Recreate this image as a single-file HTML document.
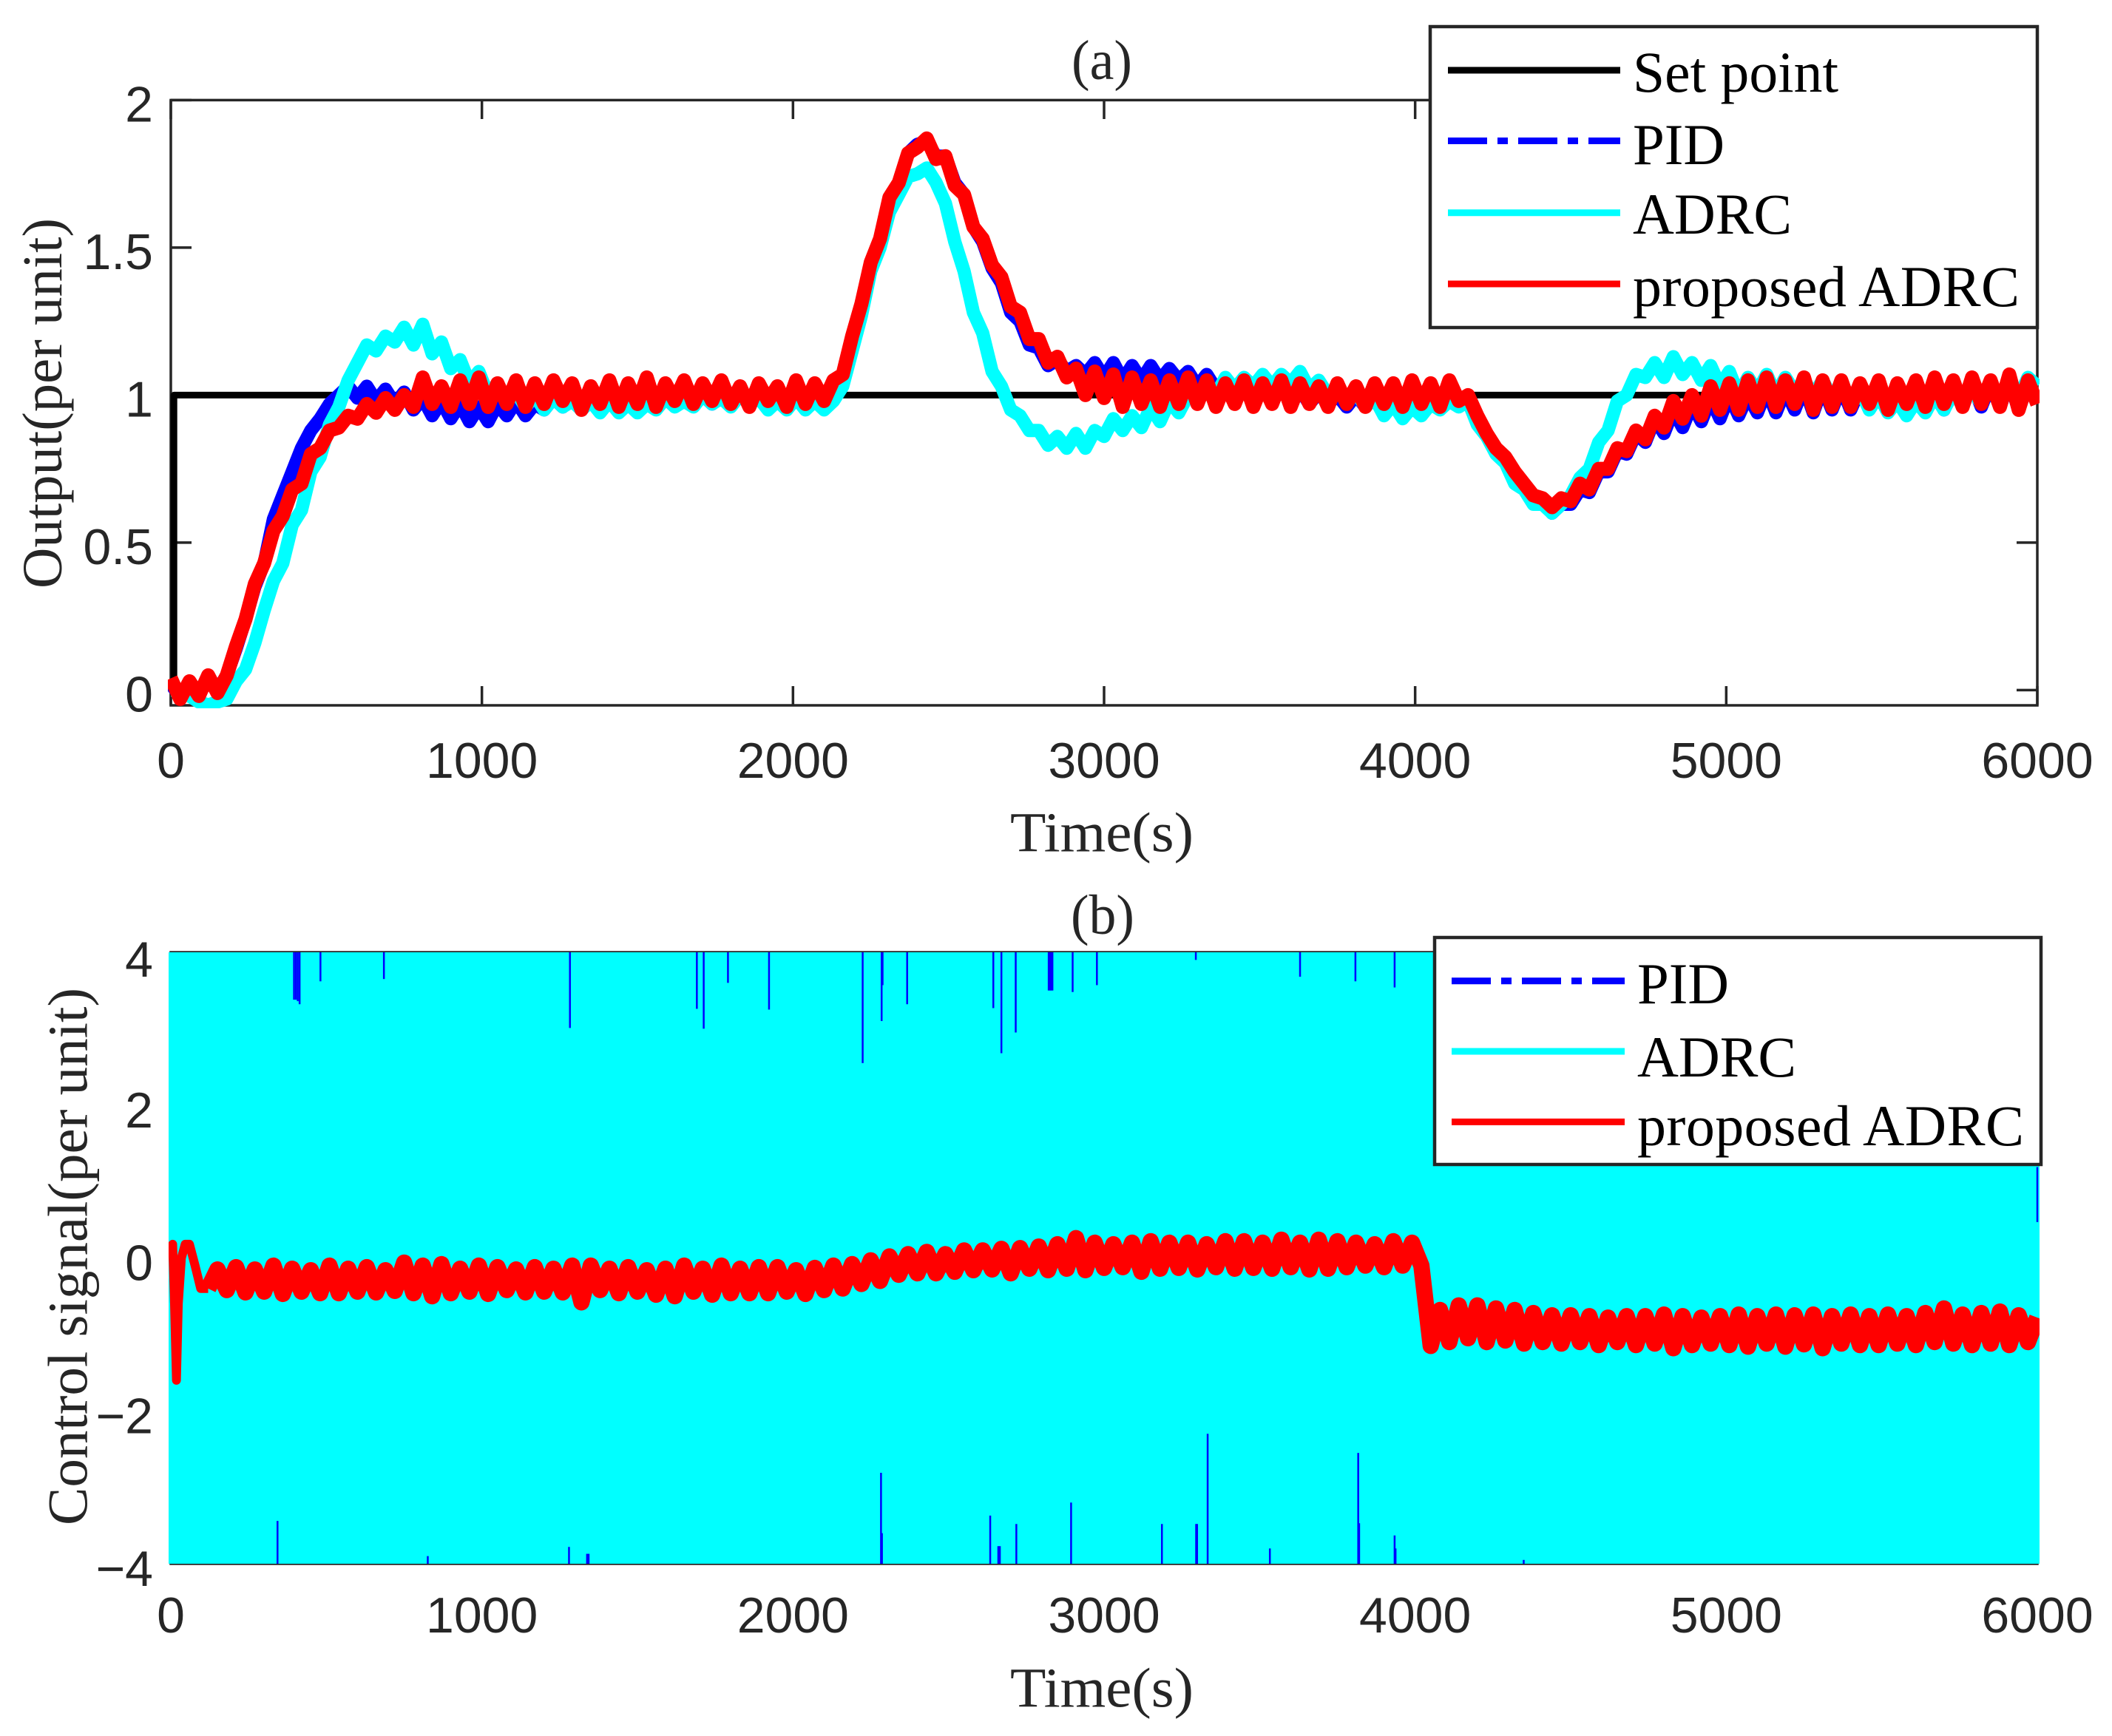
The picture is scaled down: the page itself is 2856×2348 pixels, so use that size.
<!DOCTYPE html>
<html lang="en">
<head>
<meta charset="utf-8">
<title>Output and control signal comparison</title>
<style>
html,body{margin:0;padding:0;background:#fff}
svg{display:block}
.tick{font-family:"Liberation Sans",sans-serif;font-size:68px;fill:#262626}
.lab{font-family:"Liberation Serif",serif;font-size:76px;fill:#262626}
.leg{font-family:"Liberation Serif",serif;font-size:78px;fill:#000}
</style>
</head>
<body>
<svg id="chart" xmlns="http://www.w3.org/2000/svg" width="2856" height="2348" viewBox="0 0 2856 2348">
  <defs>
    <clipPath id="clipA"><rect x="227" y="133" width="2531" height="825"/></clipPath>
    <clipPath id="clipB"><rect x="228" y="1288" width="2530" height="827"/></clipPath>
  </defs>
  <rect x="0" y="0" width="2856" height="2348" fill="#fff"/>

  <g id="panelA">
    <rect x="231" y="135.4" width="2524" height="818.6" fill="#fff" stroke="#262626" stroke-width="3.5"/>
    <g id="ticksA"></g>
    <g id="linesA" clip-path="url(#clipA)"></g>
  </g>
  <text class="lab" x="1490" y="107" text-anchor="middle" textLength="82" lengthAdjust="spacingAndGlyphs">(a)</text>
  <text class="lab" x="1490" y="1151.5" text-anchor="middle" textLength="248" lengthAdjust="spacingAndGlyphs">Time(s)</text>
  <text class="lab" transform="translate(83,545.5) rotate(-90)" text-anchor="middle" textLength="501" lengthAdjust="spacingAndGlyphs">Output(per unit)</text>

  <g id="panelB">
    <rect x="231" y="1288" width="2524" height="827" fill="#fff" stroke="#262626" stroke-width="3.5"/>
    <g id="linesB" clip-path="url(#clipB)"></g>
    <g id="ticksB"></g>
  </g>
  <text class="lab" x="1491" y="1263" text-anchor="middle" textLength="86" lengthAdjust="spacingAndGlyphs">(b)</text>
  <text class="lab" x="1490" y="2308.5" text-anchor="middle" textLength="248" lengthAdjust="spacingAndGlyphs">Time(s)</text>
  <text class="lab" transform="translate(117.4,1699.5) rotate(-90)" text-anchor="middle" textLength="727" lengthAdjust="spacingAndGlyphs">Control signal(per unit)</text>

  <g>
    <rect x="1934" y="36" width="821" height="407" fill="#fff" stroke="#262626" stroke-width="4.5"/>
    <line x1="1958" x2="2191" y1="95" y2="95" stroke="#000" stroke-width="9"/>
    <text class="leg" x="2208" y="124" textLength="278" lengthAdjust="spacingAndGlyphs">Set point</text>
    <line x1="1958" x2="2191" y1="190.5" y2="190.5" stroke="#0000ff" stroke-width="9" stroke-dasharray="53 14 14 14"/>
    <text class="leg" x="2208" y="222" textLength="124" lengthAdjust="spacingAndGlyphs">PID</text>
    <line x1="1958" x2="2191" y1="287.7" y2="287.7" stroke="#00ffff" stroke-width="9"/>
    <text class="leg" x="2208" y="316" textLength="215" lengthAdjust="spacingAndGlyphs">ADRC</text>
    <line x1="1958" x2="2191" y1="384" y2="384" stroke="#ff0000" stroke-width="9"/>
    <text class="leg" x="2208" y="414" textLength="523" lengthAdjust="spacing">proposed ADRC</text>
  </g>

  <g>
    <rect x="1940" y="1268" width="820" height="307" fill="#fff" stroke="#262626" stroke-width="4.5"/>
    <line x1="1963" x2="2197" y1="1326.7" y2="1326.7" stroke="#0000ff" stroke-width="9" stroke-dasharray="53 14 14 14"/>
    <text class="leg" x="2214" y="1357" textLength="124" lengthAdjust="spacingAndGlyphs">PID</text>
    <line x1="1963" x2="2197" y1="1422" y2="1422" stroke="#00ffff" stroke-width="9"/>
    <text class="leg" x="2214" y="1456" textLength="215" lengthAdjust="spacingAndGlyphs">ADRC</text>
    <line x1="1963" x2="2197" y1="1517.4" y2="1517.4" stroke="#ff0000" stroke-width="9"/>
    <text class="leg" x="2214" y="1549" textLength="523" lengthAdjust="spacing">proposed ADRC</text>
  </g>
</svg>

<script>
var xTickValues = [0,1000,2000,3000,4000,5000,6000];
var xTickLabels = ["0","1000","2000","3000","4000","5000","6000"];
var outputTickValues = [0,0.5,1,1.5,2];
var outputTickLabels = ["0","0.5","1","1.5","2"];
var controlTickValues = [-4,-2,0,2,4];
var controlTickLabels = ["\u22124","\u22122","0","2","4"];

var sampleStepSeconds = 30;

var setpointTimes = [10,10,6000];
var setpointValues = [0,1,1];

var pidOutput = [
.02,-.02,.02,-.01,.03,.0,.05,.14,.24,.35,
.43,.58,.66,.74,.82,.88,.92,.97,1.0,1.03,
.99,1.03,.98,1.02,.97,1.01,.95,.99,.93,.98,
.92,.97,.91,.96,.91,.97,.93,.98,.93,.97,
.95,.99,.96,1.0,.95,.98,.95,.99,.95,.98,
.95,.98,.96,1.0,.97,.99,.97,1.0,.97,1.0,
.97,1.0,.97,.99,.96,.99,.96,1.0,.96,.99,
.96,1.0,1.04,1.17,1.29,1.43,1.52,1.66,1.72,1.82,
1.85,1.86,1.81,1.81,1.72,1.68,1.57,1.52,1.43,1.38,
1.28,1.25,1.17,1.16,1.1,1.12,1.08,1.1,1.07,1.11,
1.06,1.11,1.05,1.1,1.05,1.1,1.05,1.09,1.05,1.08,
1.03,1.07,1.02,1.05,1.0,1.04,1.0,1.03,.98,1.02,
.98,1.02,.97,1.01,.97,1.0,.96,1.0,.96,1.0,
.96,1.0,.97,1.01,.97,1.0,.97,1.01,.97,1.0,
.91,.87,.81,.78,.71,.69,.64,.64,.6,.63,
.63,.68,.67,.74,.74,.81,.8,.87,.84,.92,
.87,.95,.89,.97,.91,.99,.92,1.0,.93,1.0,
.94,1.02,.94,1.02,.95,1.03,.94,1.03,.95,1.03,
.95,1.02,.96,1.03,.95,1.02,.95,1.03,.95,1.04,
.95,1.03,.96,1.04,.96,1.04,.96,1.05,.95,1.04,
.98];

var adrcOutput = [
.0,.0,-.02,-.04,-.05,-.04,-.03,.03,.07,.16,
.27,.37,.43,.56,.61,.74,.79,.9,.96,1.05,
1.11,1.17,1.15,1.2,1.18,1.23,1.17,1.24,1.14,1.18,
1.09,1.12,1.04,1.08,1.0,1.04,.98,1.01,.96,1.0,
.95,.99,.96,.98,.95,.98,.94,.98,.94,.97,
.94,.97,.95,.99,.96,.98,.96,1.0,.97,.99,
.96,1.0,.97,.99,.95,.98,.95,.99,.95,.98,
.95,.98,1.03,1.15,1.27,1.42,1.5,1.62,1.68,1.74,
1.75,1.77,1.72,1.65,1.52,1.42,1.28,1.21,1.08,1.03,
.95,.93,.88,.88,.83,.86,.82,.87,.82,.88,
.86,.92,.88,.93,.89,.96,.91,.98,.94,1.0,
.98,1.03,1.0,1.06,1.02,1.06,1.03,1.07,1.03,1.07,
1.04,1.08,1.02,1.05,1.0,1.03,.98,1.01,.96,.99,
.93,.97,.92,.96,.93,.97,.95,.98,.96,.98,
.9,.86,.8,.77,.7,.68,.63,.63,.6,.63,
.66,.72,.75,.84,.88,.98,1.0,1.07,1.06,1.11,
1.06,1.13,1.07,1.11,1.05,1.1,1.03,1.08,1.0,1.06,
1.01,1.07,1.0,1.06,1.01,1.05,1.0,1.05,.99,1.03,
.97,1.02,.95,1.0,.94,.98,.93,.98,.94,1.0,
.95,1.01,.97,1.02,.97,1.04,.98,1.05,.99,1.06,
1.03];

var proposedOutput = [
.04,-.03,.03,-.02,.05,-.01,.05,.15,.24,.36,
.43,.54,.59,.68,.7,.8,.82,.88,.89,.93,
.92,.97,.94,.99,.95,1.0,.96,1.06,.97,1.03,
.96,1.05,.97,1.06,.96,1.04,.97,1.05,.96,1.04,
.97,1.05,.98,1.04,.95,1.03,.97,1.05,.96,1.04,
.97,1.06,.96,1.04,.98,1.05,.97,1.04,.98,1.05,
.97,1.03,.96,1.04,.98,1.03,.96,1.05,.97,1.04,
.98,1.05,1.07,1.2,1.31,1.45,1.53,1.67,1.72,1.82,
1.84,1.87,1.8,1.81,1.71,1.68,1.57,1.53,1.44,1.4,
1.3,1.28,1.19,1.19,1.11,1.13,1.06,1.09,1.0,1.08,
.99,1.07,.96,1.06,.97,1.05,.96,1.05,.97,1.06,
.97,1.05,.96,1.04,.97,1.05,.96,1.04,.97,1.05,
.96,1.04,.97,1.03,.96,1.04,.97,1.03,.96,1.04,
.97,1.04,.96,1.05,.97,1.04,.96,1.05,.98,1.0,
.93,.87,.82,.79,.74,.7,.66,.65,.62,.65,
.64,.7,.68,.75,.75,.82,.81,.88,.85,.93,
.89,.98,.92,1.0,.93,1.03,.95,1.04,.95,1.05,
.96,1.06,.96,1.05,.97,1.06,.95,1.05,.96,1.05,
.96,1.04,.97,1.05,.95,1.04,.97,1.05,.96,1.06,
.97,1.05,.96,1.06,.97,1.05,.96,1.07,.95,1.05,
.97];

var adrcEnvelopeTimes = [0,6000];
var adrcEnvelopeUpper = [4,4];
var adrcEnvelopeLower = [-4,-4];

var pidUpperSpikeTimes = [396,402,408,414,481,685,1283,1691,1713,1791,1923,2224,2285,2288,2367,2644,2670,2716,2822,2826,2830,2834,2899,2977,3295,3630,3808,3934];
var pidUpperSpikeValues = [3.38,3.38,3.36,3.32,3.62,3.65,3.01,3.26,3.0,3.6,3.25,2.55,3.1,3.57,3.32,3.27,2.68,2.95,3.5,3.5,3.5,3.5,3.48,3.57,3.9,3.68,3.62,3.54];
var pidLowerSpikeTimes = [343,826,1280,1338,1343,2283,2286,2634,2660,2665,2718,2894,3186,3296,3299,3333,3533,3817,3820,3934,3937,4349];
var pidLowerSpikeValues = [-3.44,-3.9,-3.78,-3.87,-3.87,-2.81,-3.6,-3.37,-3.77,-3.77,-3.48,-3.2,-3.48,-3.48,-3.48,-2.3,-3.8,-2.55,-3.47,-3.63,-3.8,-3.95];
var pidEdgeTimes = [6000,6000];
var pidEdgeValues = [1.19,0.47];

var proposedControlEarlyTimes = [0,6,12,18,24,34,46,60,78,96,120];
var proposedControlEarlyValues = [.1,.18,-.6,-1.6,-.6,.0,.18,.18,-.1,-.4,-.4];
var proposedControlStartTime = 120;
var proposedControl = [
-.4,-.15,-.42,-.12,-.45,-.15,-.44,-.1,-.47,-.14,
-.44,-.16,-.46,-.1,-.46,-.14,-.44,-.12,-.45,-.16,
-.43,-.06,-.46,-.1,-.5,-.08,-.46,-.14,-.44,-.1,
-.47,-.12,-.42,-.15,-.45,-.12,-.44,-.14,-.45,-.1,
-.58,-.1,-.42,-.14,-.46,-.12,-.44,-.16,-.48,-.14,
-.5,-.1,-.44,-.14,-.48,-.1,-.46,-.14,-.46,-.12,
-.46,-.12,-.44,-.16,-.47,-.13,-.42,-.1,-.4,-.08,
-.34,-.03,-.3,.02,-.22,.05,-.2,.08,-.2,.05,
-.18,.1,-.16,.1,-.15,.12,-.2,.13,-.14,.15,
-.16,.18,-.14,.26,-.16,.2,-.13,.18,-.12,.2,
-.18,.22,-.14,.2,-.13,.2,-.15,.18,-.12,.22,
-.14,.22,-.13,.2,-.14,.24,-.12,.2,-.15,.24,
-.14,.22,-.12,.2,-.1,.18,-.12,.22,-.1,.2,
-.1,-1.15,-.68,-1.1,-.62,-1.05,-.62,-1.1,-.66,-1.08,
-.68,-1.12,-.72,-1.1,-.75,-1.12,-.75,-1.1,-.76,-1.14,
-.78,-1.1,-.76,-1.14,-.76,-1.12,-.74,-1.18,-.76,-1.14,
-.78,-1.12,-.76,-1.14,-.74,-1.16,-.76,-1.12,-.74,-1.16,
-.75,-1.13,-.74,-1.18,-.76,-1.12,-.74,-1.14,-.76,-1.14,
-.74,-1.12,-.76,-1.14,-.72,-1.1,-.66,-1.12,-.74,-1.14,
-.72,-1.12,-.7,-1.14,-.75,-1.1,-.78];

var NS = "http://www.w3.org/2000/svg";
function xScale(t){ return 231 + t * (2524 / 6000); }
function yOutput(v){ return 933.4 - v * 399; }
function yControl(v){ return 1701.5 - v * 103.375; }
function make(tag){ return document.createElementNS(NS, tag); }

function pathFrom(times, values, yFn){
  var d = "";
  for (var i = 0; i < values.length; i++){
    d += (i ? "L" : "M") + xScale(times[i]).toFixed(1) + " " + yFn(values[i]).toFixed(1);
  }
  return d;
}
function uniformTimes(start, count){
  var out = [];
  for (var i = 0; i < count; i++){ out.push(start + i * sampleStepSeconds); }
  return out;
}
function strokeLine(parent, d, color, width){
  var p = make("path");
  p.setAttribute("d", d);
  p.setAttribute("fill", "none");
  p.setAttribute("stroke", color);
  p.setAttribute("stroke-width", width);
  p.setAttribute("stroke-linejoin", "round");
  parent.appendChild(p);
  return p;
}
function tickLine(parent, x1, y1, x2, y2){
  var l = make("line");
  l.setAttribute("x1", x1);
  l.setAttribute("y1", y1);
  l.setAttribute("x2", x2);
  l.setAttribute("y2", y2);
  l.setAttribute("stroke", "#262626");
  l.setAttribute("stroke-width", "3.5");
  parent.appendChild(l);
  return l;
}
function tickText(parent, x, y, anchor, label){
  var t = make("text");
  t.setAttribute("class", "tick");
  t.setAttribute("x", x);
  t.setAttribute("y", y);
  t.setAttribute("text-anchor", anchor);
  t.textContent = label;
  parent.appendChild(t);
  return t;
}

var ticksA = document.getElementById("ticksA");
var linesA = document.getElementById("linesA");
var ticksB = document.getElementById("ticksB");
var linesB = document.getElementById("linesB");

xTickValues.forEach(function(v, i){
  var x = xScale(v);
  var bottom = tickLine(ticksA, x, 954, x, 928);
  
  
  var top = tickLine(ticksA, x, 135.4, x, 161);
  
  
  var labelA = tickText(ticksA, x, 1052, "middle", xTickLabels[i]);
  
  
  var labelB = tickText(ticksB, x, 2208, "middle", xTickLabels[i]);
  
  
});

outputTickValues.forEach(function(v, i){
  var y = yOutput(v);
  var left = tickLine(ticksA, 231, y, 259, y);
  
  
  var right = tickLine(ticksA, 2755, y, 2727, y);
  
  
  var label = tickText(ticksA, 207, y + 29, "end", outputTickLabels[i]);
  
  
});

controlTickValues.forEach(function(v, i){
  var label = tickText(ticksB, 207, yControl(v) + (v === 4 ? 33 : 30), "end", controlTickLabels[i]);
  
  
});

var outputTimes = uniformTimes(0, pidOutput.length);

var setpointLine = strokeLine(linesA, pathFrom(setpointTimes, setpointValues, yOutput), "#000", 9);



var pidOutLine = strokeLine(linesA, pathFrom(outputTimes, pidOutput, yOutput), "#0000ff", 18);



var adrcOutLine = strokeLine(linesA, pathFrom(uniformTimes(0, adrcOutput.length), adrcOutput, yOutput), "#00ffff", 18);



var proposedOutLine = strokeLine(linesA, pathFrom(uniformTimes(0, proposedOutput.length), proposedOutput, yOutput), "#ff0000", 19);



var envelopeD = pathFrom(adrcEnvelopeTimes, adrcEnvelopeUpper, yControl);
for (var e = adrcEnvelopeTimes.length - 1; e >= 0; e--){
  envelopeD += "L" + xScale(adrcEnvelopeTimes[e]).toFixed(1) + " " + yControl(adrcEnvelopeLower[e]).toFixed(1);
}
envelopeD += "Z";
var adrcBand = make("path");
adrcBand.setAttribute("d", envelopeD);
adrcBand.setAttribute("fill", "#00ffff");
adrcBand.setAttribute("stroke", "#00ffff");
adrcBand.setAttribute("stroke-width", "6");


linesB.appendChild(adrcBand);

pidUpperSpikeTimes.forEach(function(t, i){
  var s = make("line");
  s.setAttribute("x1", xScale(t));
  s.setAttribute("x2", xScale(t));
  s.setAttribute("y1", yControl(4));
  s.setAttribute("y2", yControl(pidUpperSpikeValues[i]));
  s.setAttribute("stroke", "#0000ff");
  s.setAttribute("stroke-width", "2.5");
  
  
  linesB.appendChild(s);
});
pidLowerSpikeTimes.forEach(function(t, i){
  var s = make("line");
  s.setAttribute("x1", xScale(t));
  s.setAttribute("x2", xScale(t));
  s.setAttribute("y1", yControl(-4));
  s.setAttribute("y2", yControl(pidLowerSpikeValues[i]));
  s.setAttribute("stroke", "#0000ff");
  s.setAttribute("stroke-width", "2.5");
  
  
  linesB.appendChild(s);
});
var pidEdge = strokeLine(linesB, pathFrom(pidEdgeTimes, pidEdgeValues, yControl), "#0000ff", 2.5);



var earlyCtrlLine = strokeLine(linesB, pathFrom(proposedControlEarlyTimes, proposedControlEarlyValues, yControl), "#ff0000", 12);



var proposedCtrlLine = strokeLine(linesB, pathFrom(uniformTimes(proposedControlStartTime, proposedControl.length), proposedControl, yControl), "#ff0000", 22);


</script>
</body>
</html>
